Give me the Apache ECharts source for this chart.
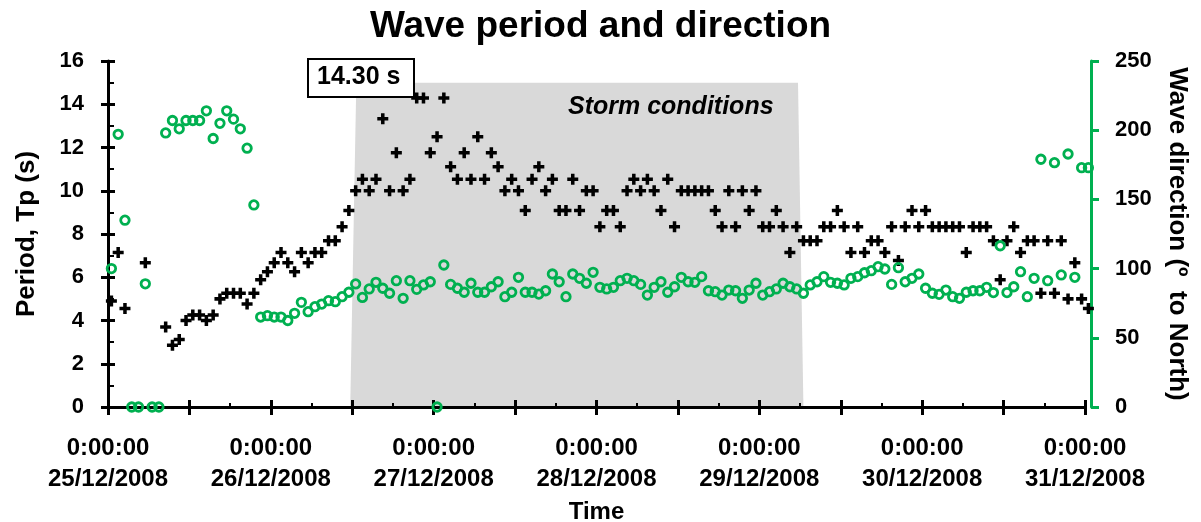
<!DOCTYPE html>
<html>
<head>
<meta charset="utf-8">
<script src="https://cdn.jsdelivr.net/npm/echarts@6/dist/echarts.min.js"></script>
<style>html,body{margin:0;padding:0;background:#fff}#c{width:1201px;height:522px}</style>
</head>
<body>
<div id="c"></div>
<script>
// Hourly samples starting 25/12/2008 00:30 (hour index k -> k + 0.5 h)
const dayLabels = ['25/12/2008','26/12/2008','27/12/2008','28/12/2008','29/12/2008','30/12/2008','31/12/2008'];
const timeLabel = '0:00:00';

// Peak period Tp (s), one value per hour, null = no reading
const periodTp = [
  4.9, 7.14, 4.55, null, null, 6.67, null, null, 3.7, 2.86,
  3.12, 4.0, 4.25, 4.25, 4.0, 4.25, 5.0, 5.26, 5.26, 5.26,
  4.76, 5.26, 5.88, 6.25, 6.67, 7.14, 6.67, 6.25, 7.14, 6.67,
  7.14, 7.14, 7.69, 7.69, 8.33, 9.09, 10.0, 10.53, 10.0, 10.53,
  13.33, 10.0, 11.76, 10.0, 10.53, 14.29, 14.29, 11.76, 12.5, 14.29,
  11.11, 10.53, 11.76, 10.53, 12.5, 10.53, 11.76, 11.11, 10.0, 10.53,
  10.0, 9.09, 10.53, 11.11, 10.0, 10.53, 9.09, 9.09, 10.53, 9.09,
  10.0, 10.0, 8.33, 9.09, 9.09, 8.33, 10.0, 10.53, 10.0, 10.53,
  10.0, 9.09, 10.53, 8.33, 10.0, 10.0, 10.0, 10.0, 10.0, 9.09,
  8.33, 10.0, 8.33, 10.0, 9.09, 10.0, 8.33, 8.33, 9.09, 8.33,
  7.14, 8.33, 7.69, 7.69, 7.69, 8.33, 8.33, 9.09, 8.33, 7.14,
  8.33, 7.14, 7.69, 7.69, 7.14, 8.33, 6.77, 8.33, 9.09, 8.33,
  9.09, 8.33, 8.33, 8.33, 8.33, 8.33, 7.14, 8.33, 8.33, 8.33,
  7.69, 5.88, 7.69, 8.33, 7.14, 7.69, 7.69, 5.26, 7.69, 5.26,
  7.69, 5.0, 6.67, 5.0, 4.55
];

// Wave direction (deg to North), one value per hour
const direction = [
  100, 197, 135, 0, 0, 89, 0, 0, 198, 207,
  201, 207, 207, 207, 214, 194, 205, 214, 208, 201,
  187, 146, 65, 66, 65, 65, 62.5, 67.7, 75.6, 68.9,
  72.5, 74.4, 76.8, 76.1, 79.7, 82.9, 88.9, 79.2, 85.3, 90.1,
  85.8, 82.2, 91.3, 78.5, 91.3, 85, 88.2, 90.5, 0, 102.6,
  88.6, 85.8, 82.9, 89.4, 82.9, 82.9, 86.9, 90.5, 79.7, 82.9,
  93.7, 82.9, 82.9, 81.6, 84, 96.1, 90.5, 79.7, 96.1, 93,
  89.4, 97.3, 86.5, 85.3, 86.5, 91.3, 93, 91.3, 88.6, 80.9,
  86.5, 90.5, 82.9, 86.9, 93.7, 90.5, 90.1, 94.2, 84, 83.3,
  80.9, 84.5, 84, 78.5, 84.5, 89.4, 80.9, 83.3, 85.3, 89.4,
  86.9, 85.3, 82.2, 88.2, 90.5, 94.2, 90.1, 89.4, 88.2, 93,
  94.2, 97, 98.5, 101.4, 99.7, 88.6, 100.7, 90.5, 93, 96.1,
  85.8, 82.2, 81.4, 84.5, 79.7, 78.5, 82.9, 84, 84, 86.5,
  82.7, 116.5, 82.7, 86.9, 97.8, 79.7, 93, 179, 91.3, 176.5,
  95.4, 182.8, 93.7, 172.9, 172.9
];

// Storm conditions shaded band (hours from start, period level)
const stormTimes = [35.7, 36.6, 101.7, 102.5];
const stormLevel = [0, 15, 15, 0];

const peakLabel = '14.30 s';
const stormLabel = 'Storm conditions';

const periodData = periodTp.map((v, k) => [k + 0.5, v]);
const directionData = direction.map((v, k) => [k + 0.5, v]);
const stormData = stormTimes.map((t, i) => [t, stormLevel[i]]);

const FONT = '"Liberation Sans", Arial, sans-serif';
const GREEN = '#00b050';
const chart = echarts.init(document.getElementById('c'), null, {renderer: 'canvas'});

const crossPath = 'path://M3.4,0h3.2v3.4h3.4v3.2h-3.4v3.4h-3.2v-3.4h-3.4v-3.2h3.4z';

chart.setOption({
  animation: false,
  backgroundColor: '#fff',
  textStyle: {fontFamily: FONT},
  title: {
    text: 'Wave period and direction',
    left: 'center',
    top: 3,
    textStyle: {fontSize: 37, fontWeight: 'bold', color: '#000', fontFamily: FONT}
  },
  grid: {left: 108, right: 116, top: 61, bottom: 115, containLabel: false, outerBoundsMode: 'none'},
  xAxis: [{
    type: 'value', min: 0, max: 144, interval: 12, position: 'bottom',
    name: 'Time', nameLocation: 'middle', nameGap: 87,
    nameTextStyle: {fontSize: 24, fontWeight: 'bold', color: '#000', fontFamily: FONT},
    axisLine: {show: true, onZero: false, lineStyle: {color: '#000', width: 3}},
    axisTick: {show: true, inside: false, length: 8, lineStyle: {color: '#000', width: 3}},
    axisLabel: {
      show: true, margin: 26, fontSize: 24, lineHeight: 31, fontWeight: 'bold', color: '#000', fontFamily: FONT,
      formatter: v => (v % 24 === 0) ? (timeLabel + '\n' + dayLabels[v / 24]) : ''
    },
    splitLine: {show: false}
  }, {
    type: 'value', min: 0, max: 144, interval: 12, position: 'bottom',
    axisLine: {show: false, onZero: false},
    axisTick: {show: true, inside: true, length: 7, lineStyle: {color: '#000', width: 3}},
    minorTick: {show: true, splitNumber: 2, length: 4, lineStyle: {color: '#000', width: 2}},
    axisLabel: {show: false},
    splitLine: {show: false}
  }],
  yAxis: [{
    type: 'value', min: 0, max: 16, interval: 2, position: 'left',
    name: 'Period, Tp (s)', nameLocation: 'middle', nameGap: 68,
    nameTextStyle: {fontSize: 26, fontWeight: 'bold', color: '#000', fontFamily: FONT},
    axisLine: {show: true, onZero: false, lineStyle: {color: '#000', width: 3}},
    axisTick: {show: true, inside: false, length: 7, lineStyle: {color: '#000', width: 3}},
    axisLabel: {margin: 24, fontSize: 22, fontWeight: 'bold', color: '#000', fontFamily: FONT},
    splitLine: {show: false}
  }, {
    type: 'value', min: 0, max: 250, interval: 50, position: 'right', offset: 6,
    name: 'Wave direction (º  to North)', nameLocation: 'middle', nameGap: 73, nameRotate: -90,
    nameTextStyle: {fontSize: 26, fontWeight: 'bold', color: '#000', fontFamily: FONT},
    axisLine: {show: true, onZero: false, lineStyle: {color: GREEN, width: 3}},
    axisTick: {show: true, inside: false, length: 8, lineStyle: {color: GREEN, width: 3}},
    axisLabel: {margin: 24, fontSize: 22, fontWeight: 'bold', color: '#000', fontFamily: FONT},
    splitLine: {show: false}
  }, {
    type: 'value', min: 0, max: 16, interval: 2, position: 'left',
    axisLine: {show: false, onZero: false},
    axisTick: {show: true, inside: true, length: 7, lineStyle: {color: '#000', width: 3}},
    minorTick: {show: true, splitNumber: 2, length: 6, lineStyle: {color: '#000', width: 2}},
    axisLabel: {show: false},
    splitLine: {show: false}
  }],
  series: [{
    name: 'Storm', type: 'line', xAxisIndex: 0, yAxisIndex: 0,
    data: stormData, symbol: 'none', silent: true, z: 0,
    lineStyle: {width: 0, color: '#d9d9d9'},
    areaStyle: {color: '#d9d9d9', opacity: 1}
  }, {
    name: 'Period', type: 'scatter', xAxisIndex: 0, yAxisIndex: 0,
    data: periodData, symbol: crossPath, symbolSize: 11, clip: false, z: 3,
    itemStyle: {color: '#000', opacity: 1}
  }, {
    name: 'Direction', type: 'scatter', xAxisIndex: 0, yAxisIndex: 1,
    data: directionData, symbol: 'circle', symbolSize: 8.5, clip: false, z: 4,
    itemStyle: {color: 'rgba(0,0,0,0)', borderColor: GREEN, borderWidth: 2.8, opacity: 1}
  }],
  graphic: [{
    type: 'rect', left: 307, top: 58, z: 100, zlevel: 0,
    shape: {x: 0, y: 0, width: 106, height: 38},
    style: {fill: '#ffffff', stroke: '#000', lineWidth: 2}
  }, {
    type: 'text', left: 317, top: 65, z: 101,
    style: {text: peakLabel, font: 'bold 25px ' + FONT, fill: '#000'}
  }, {
    type: 'text', left: 568, top: 95, z: 101,
    style: {text: stormLabel, font: 'italic bold 25px ' + FONT, fill: '#000'}
  }]
});
</script>
</body>
</html>
